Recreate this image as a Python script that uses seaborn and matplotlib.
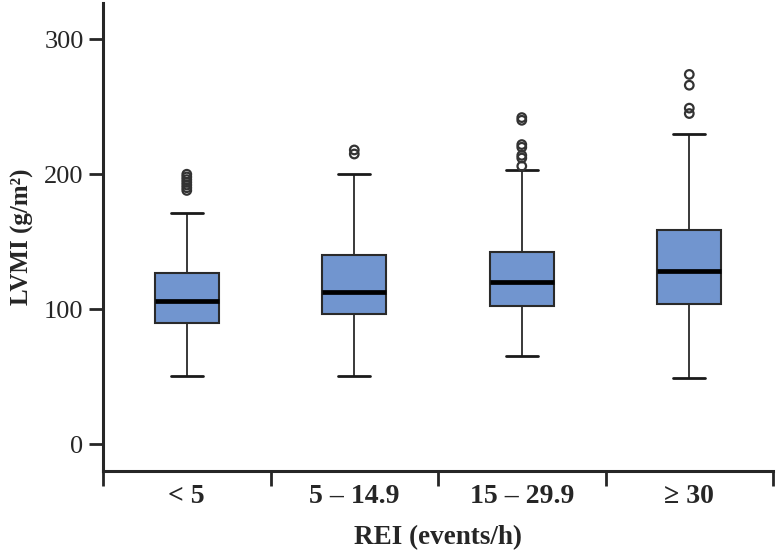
import numpy as np
import pandas as pd
import seaborn as sns
import matplotlib.pyplot as plt

# REI groups and box summary values (LVMI, g/m2)
groups = ['< 5', '5 – 14.9', '15 – 29.9', '≥ 30']
whisker_low = [50.5, 50.5, 65.5, 49]
q1 = [89.5, 96.5, 102, 103.5]
medians = [106, 113, 120, 128.5]
q3 = [126.5, 140, 142.5, 158.5]
whisker_high = [171, 200.5, 203, 230]
outliers = [
    [188, 190, 192, 194, 196, 198, 200],
    [215, 218],
    [206, 212, 214, 220, 222, 240, 242],
    [245, 249, 266, 274],
]

# one row per summary value, whiskers drawn to min/max of these
rows = []
for g, lo, a, m, b, hi in zip(groups, whisker_low, q1, medians, q3, whisker_high):
    for v in (lo, a, m, b, hi):
        rows.append({'REI': g, 'LVMI': v})
box_df = pd.DataFrame(rows)

out_rows = []
for i, vals in enumerate(outliers):
    for v in vals:
        out_rows.append({'pos': i, 'LVMI': v})
out_df = pd.DataFrame(out_rows)

sns.set_style('ticks')
plt.rcParams['font.family'] = ['Liberation Serif', 'DejaVu Serif']

fig = plt.figure(figsize=(7.77, 5.52), dpi=100)
ax = fig.add_axes([0.1326, 0.1467, 0.8623, 0.848])

sns.boxplot(data=box_df, x='REI', y='LVMI', order=groups, whis=(0, 100),
            width=0.38, color='#7195cf', saturation=1, ax=ax,
            boxprops=dict(edgecolor='#2a2a2a', linewidth=1.5),
            medianprops=dict(color='black', linewidth=3.4),
            whiskerprops=dict(color='#2a2a2a', linewidth=1.3),
            capprops=dict(color='#1a1a1a', linewidth=2.0))

sns.scatterplot(data=out_df, x='pos', y='LVMI', marker='o', s=38,
                facecolors='none', edgecolor='#333333', linewidth=1.6,
                ax=ax, legend=False, zorder=5)

ax.set_xlim(-0.5, 3.5)
ax.set_ylim(-20, 327)
ax.set_yticks([0, 100, 200, 300])
ax.tick_params(axis='y', labelsize=19, length=10, width=2, pad=4)

ax.set_xticks(range(len(groups)))
ax.set_xticklabels(groups, fontsize=20, fontweight='bold')
ax.tick_params(axis='x', length=0, pad=9)
ax.set_xticks([-0.5, 0.5, 1.5, 2.5, 3.5], minor=True)
ax.tick_params(axis='x', which='minor', length=11, width=2)

ax.set_xlabel('REI (events/h)', fontsize=19.5, fontweight='bold', labelpad=12)
ax.set_ylabel('LVMI (g/m²)', fontsize=18, fontweight='bold', labelpad=7)

for side in ['top', 'right']:
    ax.spines[side].set_visible(False)
for side in ['left', 'bottom']:
    ax.spines[side].set_linewidth(2.2)

plt.savefig('out.png', dpi=100)
